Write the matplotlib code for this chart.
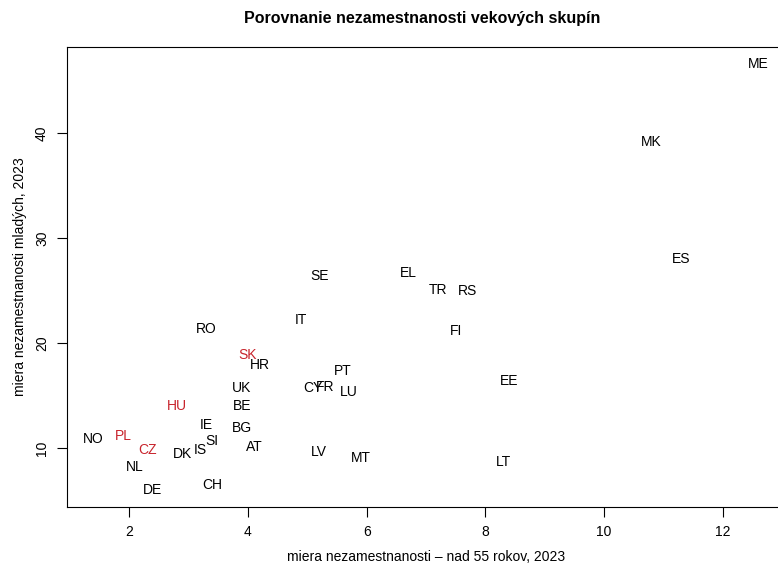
import matplotlib
matplotlib.use("Agg")
import matplotlib.pyplot as plt

plt.rcParams['font.family'] = ['Liberation Sans', 'DejaVu Sans']

countries = ["ME", "MK", "ES", "SE", "EL", "TR", "RS", "IT", "FI", "RO", "SK", "HR",
             "PT", "EE", "UK", "CY", "FR", "LU", "HU", "BE", "IE", "BG", "NO", "PL",
             "SI", "AT", "CZ", "IS", "DK", "LV", "MT", "LT", "NL", "DE", "CH"]
older = [12.6, 10.8, 11.3, 5.2, 6.7, 7.2, 7.7, 4.9, 7.5, 3.3, 4.0, 4.2,
         5.6, 8.4, 3.9, 5.1, 5.3, 5.7, 2.8, 3.9, 3.3, 3.9, 1.4, 1.9,
         3.4, 4.1, 2.3, 3.2, 2.9, 5.2, 5.9, 8.3, 2.1, 2.4, 3.4]
youth = [46.6, 39.2, 28.0, 26.4, 26.7, 25.1, 25.0, 22.2, 21.2, 21.3, 18.9, 17.9,
         17.3, 16.4, 15.7, 15.7, 15.8, 15.3, 14.0, 14.0, 12.2, 11.9, 10.9, 11.1,
         10.7, 10.1, 9.8, 9.8, 9.4, 9.6, 9.0, 8.7, 8.2, 6.0, 6.5]
highlight = ["SK", "HU", "PL", "CZ"]

title = "Porovnanie nezamestnanosti vekových skupín"
xlabel = "miera nezamestnanosti – nad 55 rokov, 2023"
ylabel = "miera nezamestnanosti mladých, 2023"
xticks = [2, 4, 6, 8, 10, 12]
yticks = [10, 20, 30, 40]

W, H = 778, 563
fig = plt.figure(figsize=(W / 100, H / 100), dpi=100)
# plot region extends slightly past the right edge of the image (as in the reference)
left, right, top, bottom = 67, 785, 47, 507
ax = fig.add_axes([left / W, 1 - bottom / H, (right - left) / W, (bottom - top) / H])

red = "#C8242C"
for c, x, y in zip(countries, older, youth):
    ax.text(x, y, c, ha="center", va="center", fontsize=10,
            color=red if c in highlight else "black")

xmin, xmax = min(older), max(older)
ymin, ymax = min(youth), max(youth)
dx = (xmax - xmin) * 0.04
dy = (ymax - ymin) * 0.04
ax.set_xlim(xmin - dx, xmax + dx)
ax.set_ylim(ymin - dy, ymax + dy)

ax.set_xticks(xticks)
ax.set_yticks(yticks)
ax.tick_params(direction="out", length=7, width=0.8, labelsize=10, pad=6)
for lab in ax.get_yticklabels():
    lab.set_rotation(90)
    lab.set_va("center")
for s in ax.spines.values():
    s.set_linewidth(0.8)

ax.set_xlabel(xlabel, fontsize=10, labelpad=8)
ax.set_ylabel(ylabel, fontsize=10, labelpad=6)
fig.text((left + 777) / 2 / W, 1 - 19 / H, title, ha="center", va="center",
         fontsize=11.5, fontweight="bold")

fig.savefig("out.png", dpi=100)
